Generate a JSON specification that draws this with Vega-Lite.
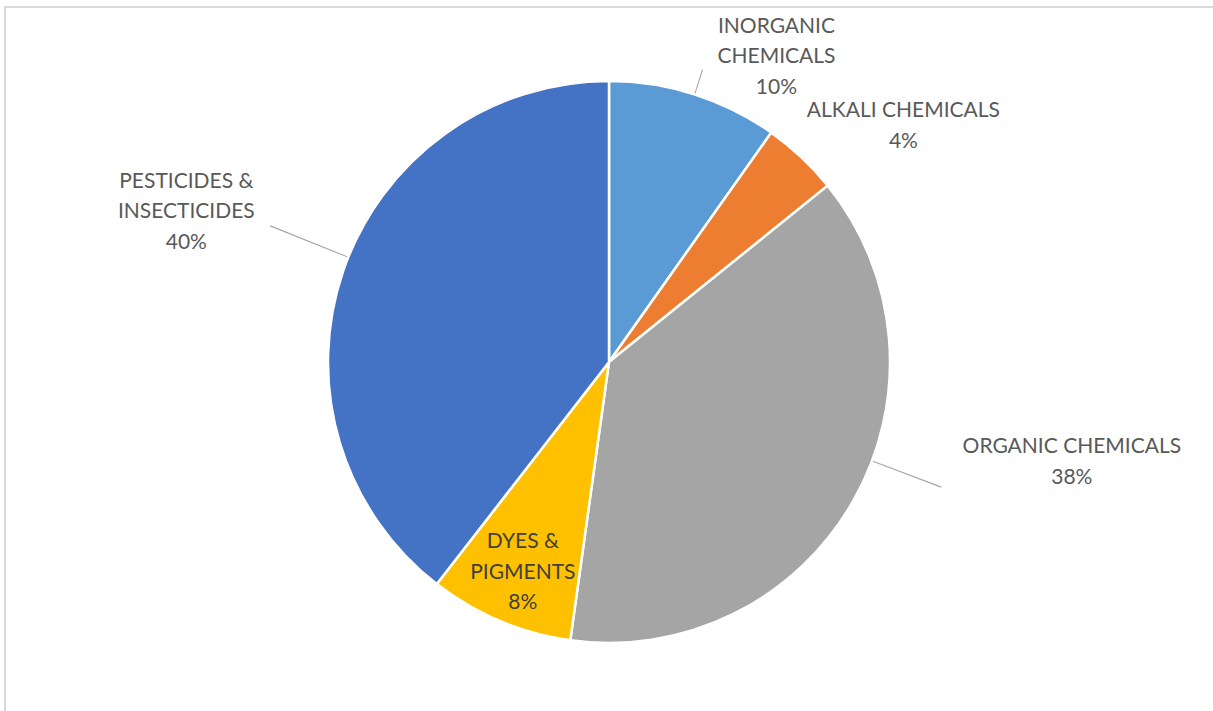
{
  "$schema": "https://vega.github.io/schema/vega-lite/v6.json",
  "autosize": "none",
  "width": 1208,
  "height": 710,
  "padding": {"left": 5, "top": 7, "right": 0, "bottom": 0},
  "background": "white",
  "view": {"stroke": "#d9d9d9", "strokeWidth": 2, "strokeDash": [1208, 1918, 710]},
  "data": {
    "values": [
      {"category": "INORGANIC CHEMICALS", "name": "INORGANIC\nCHEMICALS", "value": 9.8, "rank": 1},
      {"category": "ALKALI CHEMICALS", "name": "ALKALI CHEMICALS", "value": 4.4, "rank": 2},
      {"category": "ORGANIC CHEMICALS", "name": "ORGANIC CHEMICALS", "value": 38.0, "rank": 3},
      {"category": "DYES & PIGMENTS", "name": "DYES &\nPIGMENTS", "value": 8.3, "rank": 4},
      {"category": "PESTICIDES & INSECTICIDES", "name": "PESTICIDES &\nINSECTICIDES", "value": 39.5, "rank": 5}
    ]
  },
  "transform": [
    {"calculate": "datum.name + '\\n' + format(datum.value, '.0f') + '%'", "as": "label"},
    {"stack": "value", "sort": [{"field": "rank"}], "groupby": [], "as": ["v0", "v1"]},
    {"calculate": "(datum.v0 + datum.v1) / 2", "as": "mid"}
  ],
  "encoding": {
    "theta": {"field": "value", "type": "quantitative", "stack": true, "scale": {"domain": [0, 100]}},
    "order": {"field": "rank", "type": "quantitative"}
  },
  "layer": [
    {
      "mark": {"type": "arc", "outerRadius": 281, "stroke": "white", "strokeWidth": 2.5},
      "encoding": {
        "color": {
          "field": "category",
          "type": "nominal",
          "legend": null,
          "scale": {
            "domain": ["INORGANIC CHEMICALS", "ALKALI CHEMICALS", "ORGANIC CHEMICALS", "DYES & PIGMENTS", "PESTICIDES & INSECTICIDES"],
            "range": ["#5B9BD5", "#ED7D31", "#A5A5A5", "#FFC000", "#4472C4"]
          }
        }
      }
    },
    {
      "transform": [{"filter": "datum.rank === 1"}, {"calculate": "datum.mid", "as": "la"}, {"calculate": "datum.la + 0.06", "as": "lb"}],
      "mark": {"type": "arc", "radius": 307, "radius2": 282, "fill": "#a6a6a6"},
      "encoding": {
        "theta": {"field": "la", "type": "quantitative", "stack": null},
        "theta2": {"field": "lb"}
      }
    },
    {
      "transform": [{"filter": "datum.rank === 3"}, {"calculate": "datum.mid - 2.5", "as": "la"}, {"calculate": "datum.la + 0.06", "as": "lb"}],
      "mark": {"type": "arc", "radius": 355, "radius2": 282, "fill": "#a6a6a6"},
      "encoding": {
        "theta": {"field": "la", "type": "quantitative", "stack": null},
        "theta2": {"field": "lb"}
      }
    },
    {
      "transform": [{"filter": "datum.rank === 5"}, {"calculate": "datum.mid + 0.8", "as": "la"}, {"calculate": "datum.la + 0.06", "as": "lb"}],
      "mark": {"type": "arc", "radius": 365, "radius2": 282, "fill": "#a6a6a6"},
      "encoding": {
        "theta": {"field": "la", "type": "quantitative", "stack": null},
        "theta2": {"field": "lb"}
      }
    },
    {
      "mark": {"type": "text", "radius": 348, "dx": 62, "dy": -3.5, "font": "Lato", "fontSize": 21, "lineHeight": 30.5, "lineBreak": "\n", "align": "center", "baseline": "middle"},
      "encoding": {
        "detail": {"field": "category"},
        "color": {"value": "#595959"},
        "text": {"condition": {"test": "datum.rank === 1", "field": "label"}, "value": ""}
      }
    },
    {
      "mark": {"type": "text", "radius": 376, "dx": 37, "dy": 23.5, "font": "Lato", "fontSize": 21, "lineHeight": 30.5, "lineBreak": "\n", "align": "center", "baseline": "middle"},
      "encoding": {
        "detail": {"field": "category"},
        "color": {"value": "#595959"},
        "text": {"condition": {"test": "datum.rank === 2", "field": "label"}, "value": ""}
      }
    },
    {
      "mark": {"type": "text", "radius": 471, "dx": 53, "dy": -147, "font": "Lato", "fontSize": 21, "lineHeight": 30.5, "lineBreak": "\n", "align": "center", "baseline": "middle"},
      "encoding": {
        "detail": {"field": "category"},
        "color": {"value": "#595959"},
        "text": {"condition": {"test": "datum.rank === 3", "field": "label"}, "value": ""}
      }
    },
    {
      "mark": {"type": "text", "radius": 227, "dx": 2, "dy": -29, "font": "Lato", "fontSize": 21, "lineHeight": 30.5, "lineBreak": "\n", "align": "center", "baseline": "middle"},
      "encoding": {
        "detail": {"field": "category"},
        "color": {"value": "#404040"},
        "text": {"condition": {"test": "datum.rank === 4", "field": "label"}, "value": ""}
      }
    },
    {
      "mark": {"type": "text", "radius": 451, "dx": 4, "dy": -34, "font": "Lato", "fontSize": 21, "lineHeight": 30.5, "lineBreak": "\n", "align": "center", "baseline": "middle"},
      "encoding": {
        "detail": {"field": "category"},
        "color": {"value": "#595959"},
        "text": {"condition": {"test": "datum.rank === 5", "field": "label"}, "value": ""}
      }
    }
  ]
}
